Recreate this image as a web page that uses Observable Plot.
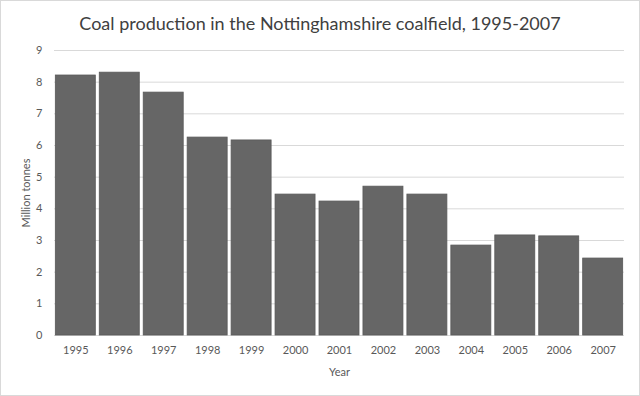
<!DOCTYPE html>
<html><head><meta charset="utf-8">
<script src="https://cdn.jsdelivr.net/npm/d3@7"></script>
<script src="https://cdn.jsdelivr.net/npm/@observablehq/plot@0.6"></script>
<style>
body{margin:0;background:#fff;}
#wrap{width:640px;height:396px;box-sizing:border-box;border:1px solid #d9d9d9;background:#fff;position:relative;overflow:hidden;}
#title{height:37px;line-height:44px;text-align:center;font-family:Lato,"Open Sans",sans-serif;font-size:18px;color:#404040;}
</style></head>
<body><div id="wrap"><div id="title">Coal production in the Nottinghamshire coalfield, 1995-2007</div><div id="chart"></div></div>
<script>
const years = ["1995","1996","1997","1998","1999","2000","2001","2002","2003","2004","2005","2006","2007"];
const production = [8.21, 8.30, 7.67, 6.25, 6.16, 4.45, 4.23, 4.70, 4.45, 2.84, 3.16, 3.13, 2.43];
const yTicks = [0,1,2,3,4,5,6,7,8,9];
const data = years.map((y,i)=>({year:y, value:production[i]}));
const chart = Plot.plot({
  width: 638, height: 357,
  marginTop: 12, marginBottom: 60, marginLeft: 53, marginRight: 15,
  style: {fontFamily: "Lato, 'Open Sans', sans-serif", fontSize: "11px", color: "#595959", background: "transparent"},
  x: {domain: years, paddingInner: 0.09, paddingOuter: 0.03, round: false, label: "Year"},
  y: {domain: [0, 9], ticks: yTicks, label: "Million tonnes"},
  marks: [
    Plot.gridY(yTicks, {stroke: "#d9d9d9", strokeOpacity: 1}),
    Plot.barY(data, {x: "year", y: "value", fill: "#666666", stroke: "#595959", strokeWidth: 0.8}),
    Plot.axisX({tickSize: 0, tickPadding: 11, label: "Year", labelAnchor: "center", labelArrow: false, labelOffset: 40}),
    Plot.axisY({ticks: yTicks, tickSize: 0, tickPadding: 12, label: "Million tonnes", labelAnchor: "center", labelArrow: false, labelOffset: 32, tickFormat: d3.format("d")})
  ]
});
document.getElementById("chart").appendChild(chart);
</script></body></html>
